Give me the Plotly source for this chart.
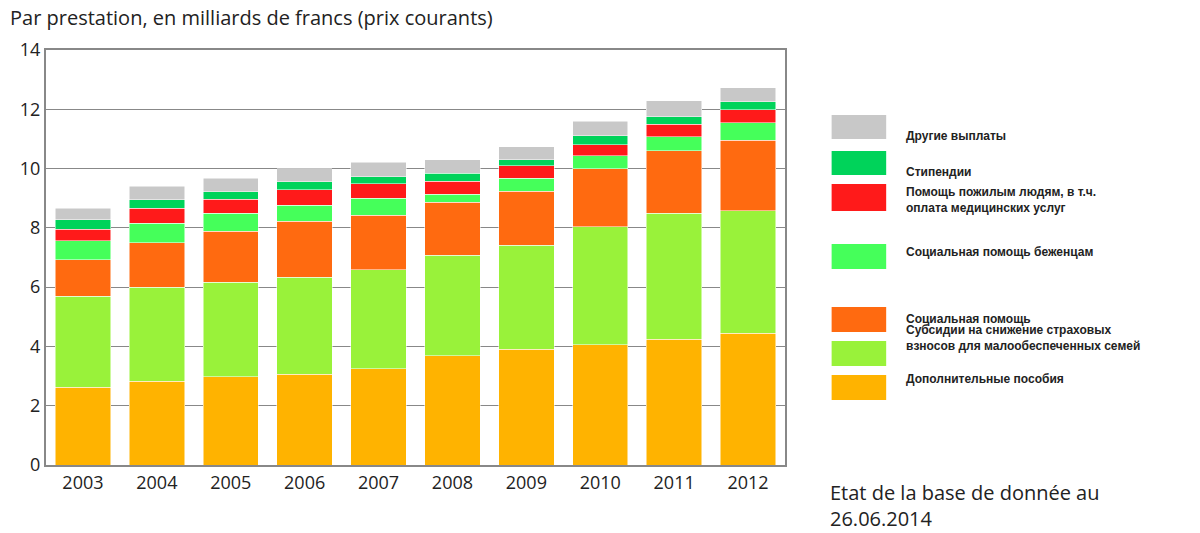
import plotly.graph_objects as go

years = ['2003','2004','2005','2006','2007','2008','2009','2010','2011','2012']
# cumulative tops
top_add = [2.63,2.83,2.97,3.07,3.24,3.68,3.91,4.05,4.25,4.45]
top_sub = [5.70,6.00,6.17,6.34,6.58,7.08,7.42,8.03,8.50,8.57]
top_soc = [6.92,7.49,7.89,8.23,8.43,8.87,9.24,9.99,10.60,10.96]
top_ref = [7.56,8.16,8.50,8.77,9.00,9.14,9.68,10.43,11.07,11.54]
top_old = [7.96,8.67,8.97,9.28,9.48,9.58,10.09,10.80,11.50,11.98]
top_sti = [8.27,8.94,9.21,9.55,9.72,9.85,10.29,11.10,11.74,12.25]
top_oth = [8.67,9.41,9.68,9.99,10.22,10.29,10.73,11.60,12.28,12.72]

tops = [top_add, top_sub, top_soc, top_ref, top_old, top_sti, top_oth]
names = ['Дополнительные пособия',
         'Субсидии на снижение страховых<br>взносов для малообеспеченных семей',
         'Социальная помощь',
         'Социальная помощь беженцам',
         'Помощь пожилым людям, в т.ч.<br>оплата медицинских услуг',
         'Стипендии',
         'Другие выплаты']
colors = ['#FFB300','#99F23A','#FF6A10','#45FF5A','#FF1A1A','#00D35A','#C8C8C8']

fig = go.Figure()
prev = [0]*len(years)
for t, n, c in zip(tops, names, colors):
    vals = [round(a-b, 2) for a, b in zip(t, prev)]
    fig.add_trace(go.Bar(x=years, y=vals, name=n, marker=dict(color=c, line=dict(color='white', width=0.5))))
    prev = t

# page body has an 8px margin, so margins are shifted by it
fig.update_layout(barmode='stack', bargap=0.25, showlegend=False,
                  width=1200, height=533, plot_bgcolor='white', paper_bgcolor='white',
                  margin=dict(l=32, r=423, t=42, b=76),
                  font=dict(family='Open Sans', size=18, color='#222'))
fig.update_yaxes(range=[0,14], dtick=2, showgrid=True, gridcolor='#888', gridwidth=1,
                 showline=True, linecolor='#888', linewidth=2, mirror=True, ticks='', zeroline=False)
fig.update_xaxes(showline=True, linecolor='#888', linewidth=2, mirror=True)

# legend drawn by hand
ybox = [(375,400),(341,366),(307,332),(244,269),(184,211),(151,175),(115,139)]
ytxt = [388,355,319,252,200,163,127]
for (y1, y2), yt, n, c in zip(ybox, ytxt, names, colors):
    fig.add_shape(type='rect', xref='paper', yref='paper', x0=(832-40)/745, x1=(887-40)/745,
                  y0=(465-y2)/415, y1=(465-y1)/415, fillcolor=c, line=dict(width=0))
    fig.add_annotation(xref='paper', yref='paper', x=(905-40)/745, y=(465-yt)/415, text='<b>'+n+'</b>',
                       showarrow=False, xanchor='left', align='left', font=dict(size=12, family='Arial'))

fig.add_annotation(xref='paper', yref='paper', x=-0.052, y=1.115, text='Par prestation, en milliards de francs (prix courants)',
                   showarrow=False, xanchor='left', font=dict(size=20))
fig.add_annotation(xref='paper', yref='paper', x=(828-40)/745, y=-0.03, text='Etat de la base de donnée au<br>26.06.2014',
                   showarrow=False, xanchor='left', yanchor='top', align='left', font=dict(size=20))

fig.write_html("out.html")
